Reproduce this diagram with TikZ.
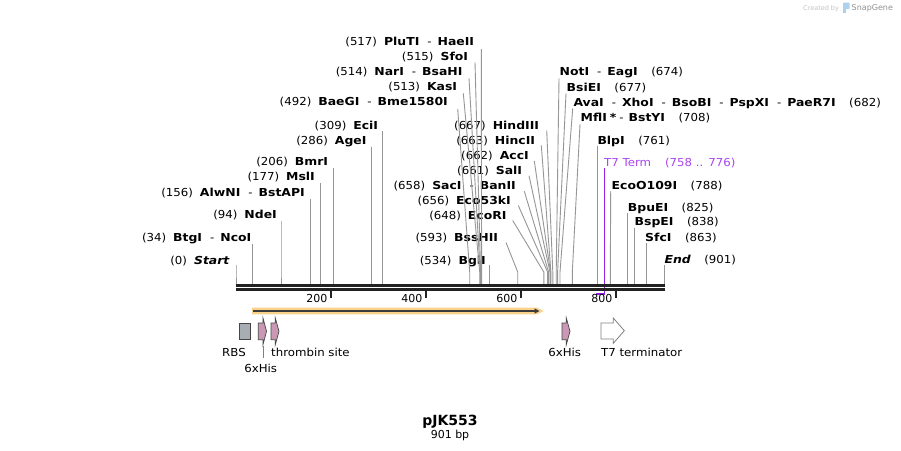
\documentclass[tikz,border=0pt]{standalone}
\usepackage{fontspec}
\setmainfont{DejaVu Sans}[FakeStretch=1.07,BoldFeatures={FakeStretch=1.13},BoldItalicFeatures={FakeStretch=1.13}]
\newfontfamily\plainfont{DejaVu Sans}
\usetikzlibrary{arrows.meta}
\definecolor{siteln}{RGB}{150,150,150}
\definecolor{mapblk}{RGB}{34,34,34}
\definecolor{t7purple}{RGB}{150,30,230}
\definecolor{t7text}{RGB}{170,70,240}
\definecolor{orangeband}{RGB}{251,210,140}
\definecolor{arrowdark}{RGB}{60,60,60}
\definecolor{rbsgray}{RGB}{168,173,180}
\definecolor{hispink}{RGB}{202,152,180}
\definecolor{featedge}{RGB}{70,70,70}
\definecolor{wmark}{RGB}{195,195,195}
\definecolor{logoblue}{RGB}{170,210,240}

\newcommand\nm[1]{\textbf{#1}}
\newcommand\dsh{\hspace{8pt}-\hspace{6pt}}
\newcommand\gp{\hspace{7pt}}
\newcommand\gpr{\hspace{13.5pt}}
\newcommand\cutline[4]{%
  \coordinate (s#1) at (#2,284);
  \coordinate (k#1) at (#2,272);
  \coordinate (t#1) at (#3,#4);
  \draw[siteline] (t#1) -- (k#1) -- (s#1);}
\newcommand\hisfeat[3]{%
  \filldraw[fill=hispink,draw=featedge,line width=0.7pt]
    (#1,323) -- (#2,323) -- (#2,318) -- (#3,331.3) -- (#2,344.7) -- (#2,339.7) -- (#1,339.7) -- cycle;}

\begin{document}
\begin{tikzpicture}[x=1pt,y=-1pt,
  siteline/.style={draw=siteln,line width=0.9pt},
  lbl/.style={inner sep=0pt,font=\fontsize{11}{13}\selectfont},
  lblL/.style={lbl,anchor=base east},
  lblR/.style={lbl,anchor=base west},
  mapline/.style={draw=mapblk,line width=2.7pt},
  tickmark/.style={draw=mapblk,line width=1.8pt}]

\fill[white] (0,0) rectangle (901,450);
\useasboundingbox (0,0) rectangle (901,450);

% watermark
\node[anchor=base west,inner sep=0pt,font=\plainfont\fontsize{6.5}{8}\selectfont,text=wmark] (cb) at (803,10) {Created by};
\fill[logoblue,rounded corners=1pt] (843,2.5) rectangle (849.5,9);
\fill[logoblue] (843,2.5) rectangle (845.5,12.5);
\node[anchor=base west,inner sep=0pt,font=\plainfont\fontsize{8}{9}\selectfont,text=wmark!75!black] (sg) at (851.5,10.5) {SnapGene};

% ---------- left labels ----------
\node[lblL] (l517) at (474.3,45.7) {(517)\gp\nm{PluTI}\dsh\nm{HaeII}};
\node[lblL] (l515) at (468.3,60.7) {(515)\gp\nm{SfoI}};
\node[lblL] (l514) at (462.7,75.7) {(514)\gp\nm{NarI}\dsh\nm{BsaHI}};
\node[lblL] (l513) at (457.3,90.7) {(513)\gp\nm{KasI}};
\node[lblL] (l492) at (448,105.7) {(492)\gp\nm{BaeGI}\dsh\nm{Bme1580I}};
\node[lblL] (l309) at (378.3,129) {(309)\gp\nm{EciI}};
\node[lblL] (l286) at (366.7,144.3) {(286)\gp\nm{AgeI}};
\node[lblL] (l206) at (328.3,165.7) {(206)\gp\nm{BmrI}};
\node[lblL] (l177) at (315,180.7) {(177)\gp\nm{MslI}};
\node[lblL] (l156) at (305,196.5) {(156)\gp\nm{AlwNI}\dsh\nm{BstAPI}};
\node[lblL] (l94) at (277,218.5) {(94)\gp\nm{NdeI}};
\node[lblL] (l34) at (251.5,241.3) {(34)\gp\nm{BtgI}\dsh\nm{NcoI}};
\node[lblL] (l0) at (230,264) {(0)\gp\textbf{\textit{Start}}};

% ---------- centre labels ----------
\node[lblL] (l667) at (539.3,129) {(667)\gp\nm{HindIII}};
\node[lblL] (l663) at (535.3,144) {(663)\gp\nm{HincII}};
\node[lblL] (l662) at (529,159) {(662)\gp\nm{AccI}};
\node[lblL] (l661) at (522.3,174) {(661)\gp\nm{SalI}};
\node[lblL] (l658) at (516,189) {(658)\gp\nm{SacI}\dsh\nm{BanII}};
\node[lblL] (l656) at (511,204) {(656)\gp\nm{Eco53kI}};
\node[lblL] (l648) at (506.7,219) {(648)\gp\nm{EcoRI}};
\node[lblL] (l593) at (498.3,241.3) {(593)\gp\nm{BssHII}};
\node[lblL] (l534) at (486,264) {(534)\gp\nm{BglI}};

% ---------- right labels ----------
\node[lblR] (l674) at (559.5,75.7) {\nm{NotI}\dsh\nm{EagI}\gpr(674)};
\node[lblR] (l677) at (566.5,91) {\nm{BsiEI}\gpr(677)};
\node[lblR] (l682) at (573.3,106) {\nm{AvaI}\dsh\nm{XhoI}\dsh\nm{BsoBI}\dsh\nm{PspXI}\dsh\nm{PaeR7I}\gpr(682)};
\node[lblR] (l708) at (580.5,121) {\nm{MflI}\hspace{3pt}\nm{*}\hspace{3pt}-\hspace{5pt}\nm{BstYI}\gpr(708)};
\node[lblR] (l761) at (597.3,144.3) {\nm{BlpI}\gpr(761)};
\node[lblR,text=t7text] (lT7) at (604,166.3) {T7 Term\hspace{14pt}(758 .. 776)};
\node[lblR] (l788) at (611.5,189) {\nm{EcoO109I}\gpr(788)};
\node[lblR] (l825) at (627.7,211.3) {\nm{BpuEI}\gpr(825)};
\node[lblR] (l838) at (634.5,225.7) {\nm{BspEI}\gpr(838)};
\node[lblR] (l863) at (645,241) {\nm{SfcI}\gpr(863)};
\node[lblR] (l901) at (664.3,263.7) {\textbf{\textit{End}}\gpr(901)};

% ---------- site lines ----------
\cutline{517}{481.6}{481.3}{49}
\cutline{515}{480.6}{475}{62.3}
\cutline{514}{480.2}{469}{78.3}
\cutline{513}{479.7}{463.3}{93.3}
\cutline{492}{469.7}{457.7}{109}
\cutline{309}{382.8}{382.8}{131}
\cutline{286}{371.9}{371.9}{146.7}
\cutline{206}{333.9}{333.9}{167.7}
\cutline{177}{320.1}{320.1}{183.3}
\cutline{156}{310.1}{310.1}{199}
\cutline{94}{281}{281}{221}
\cutline{34}{252.2}{252.2}{244}
\cutline{0}{236}{236}{265}
\cutline{667}{552.8}{546.7}{130.5}
\cutline{663}{550.9}{541.3}{145.5}
\cutline{662}{550.5}{534.3}{161}
\cutline{661}{550.0}{529}{175.7}
\cutline{658}{548.6}{524.3}{191.3}
\cutline{656}{547.6}{518.3}{205.5}
\cutline{648}{543.8}{512.7}{220.5}
\cutline{593}{517.7}{506}{242.5}
\cutline{534}{489.7}{489.7}{265}
\cutline{674}{556.2}{559}{78.3}
\cutline{677}{557.6}{566}{93.3}
\cutline{682}{560}{572.7}{108.5}
\cutline{708}{572.3}{580}{124.3}
\cutline{761}{597.5}{597.5}{146}
\cutline{788}{610.3}{610.7}{191}
\cutline{825}{627.9}{627.9}{213.3}
\cutline{838}{634}{634}{227.7}
\cutline{863}{646}{646}{243.3}
\cutline{901}{664.3}{664.3}{265}

% T7 terminator span
\coordinate (t7top) at (604.5,168.3);
\coordinate (t7bend) at (604.5,294);
\coordinate (t7end) at (596,294);
\draw[t7purple,line width=1.6pt] (t7top) -- (t7bend) -- (t7end);

% ---------- map ----------
\draw[mapline] (236,285.3) -- (665,285.3);
\draw[mapline] (236,289.3) -- (665,289.3);
\foreach \v/\x in {200/331,400/426,600/521,800/616}{
  \draw[tickmark] (\x,291) -- (\x,297.5);
  \node[lbl,font=\plainfont\fontsize{11}{13}\selectfont,anchor=east] (tk\v) at (\x-3.5,298.5) {\v};
}

% ---------- ORF arrow ----------
\fill[orangeband] (252,307.7) -- (537,307.7) -- (543.5,311) -- (537,314.3) -- (252,314.3) -- cycle;
\draw[arrowdark,line width=1.5pt,-{Triangle[length=5pt,width=5pt]}] (253,311) -- (539.5,311);

% ---------- features ----------
\filldraw[fill=rbsgray,draw=featedge,line width=0.8pt] (239.7,323) rectangle (250,339.7);
\hisfeat{258.3}{263}{266.5}
\hisfeat{271}{275.3}{279}
\hisfeat{562}{566.3}{570}
\filldraw[fill=white,draw=gray,line width=0.8pt]
  (601,323) -- (613.3,323) -- (613.3,318) -- (624.3,330.7) -- (613.3,343.3) -- (613.3,339) -- (601,339) -- cycle;

\node[lbl,anchor=base] (fRBS) at (234,356.7) {RBS};
\node[lbl,anchor=base west] (fThr) at (271,356.7) {thrombin site};
\node[lbl,anchor=base] (fHis2) at (564.7,356.7) {6xHis};
\node[lbl,anchor=base west] (fT7) at (601,356.7) {T7 terminator};
\node[lbl,anchor=base] (fHis1) at (260.7,372.3) {6xHis};
\coordinate (his1a) at (263,346);
\coordinate (his1b) at (263,358.3);
\draw[gray,line width=0.8pt] (his1a) -- (his1b);

% ---------- title ----------
\node[anchor=base,inner sep=0pt,font=\plainfont\fontsize{14}{16}\selectfont\bfseries] (title) at (450,425) {pJK553};
\node[lbl,font=\plainfont\fontsize{11}{13}\selectfont,anchor=base] (bp) at (450,438.3) {901 bp};
\end{tikzpicture}
\end{document}
